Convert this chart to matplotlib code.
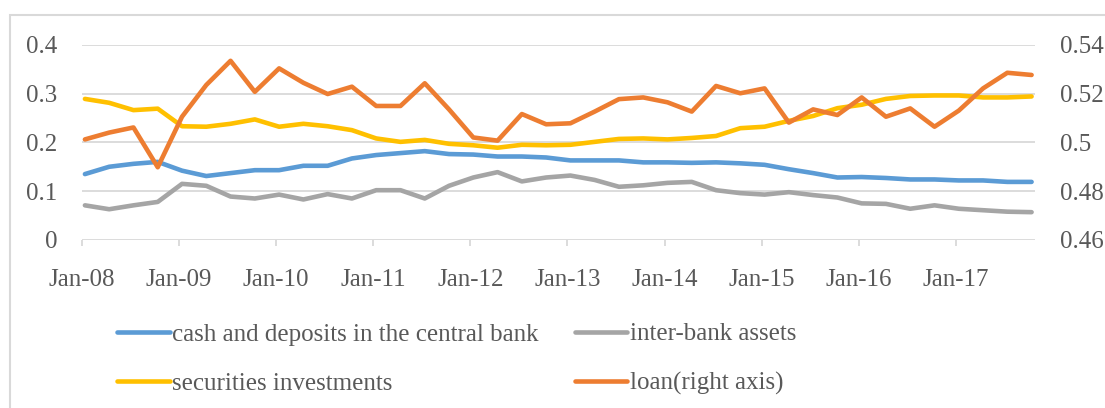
import matplotlib
matplotlib.use("Agg")
import matplotlib.pyplot as plt
from matplotlib.patches import Rectangle

plt.rcParams["font.family"] = ["Liberation Serif", "DejaVu Serif"]

# quarterly observations, Jan-08 .. Oct-17
YEAR_LABELS = ["Jan-08", "Jan-09", "Jan-10", "Jan-11", "Jan-12",
               "Jan-13", "Jan-14", "Jan-15", "Jan-16", "Jan-17"]

cash = [0.135, 0.150, 0.156, 0.160, 0.142, 0.131, 0.137, 0.143, 0.143, 0.152,
        0.152, 0.167, 0.174, 0.178, 0.182, 0.176, 0.175, 0.171, 0.171, 0.169,
        0.163, 0.163, 0.163, 0.159, 0.159, 0.158, 0.159, 0.157, 0.154, 0.145,
        0.137, 0.128, 0.129, 0.127, 0.124, 0.124, 0.122, 0.122, 0.119, 0.119]

interbank = [0.071, 0.063, 0.071, 0.078, 0.115, 0.111, 0.089, 0.085, 0.093, 0.083,
             0.094, 0.085, 0.102, 0.102, 0.085, 0.111, 0.128, 0.139, 0.120, 0.128,
             0.132, 0.123, 0.109, 0.112, 0.117, 0.119, 0.102, 0.096, 0.093, 0.098,
             0.092, 0.087, 0.075, 0.074, 0.064, 0.071, 0.064, 0.061, 0.058, 0.057]

securities = [0.289, 0.281, 0.266, 0.269, 0.233, 0.232, 0.238, 0.247, 0.232, 0.238,
              0.233, 0.225, 0.208, 0.201, 0.205, 0.197, 0.194, 0.189, 0.195, 0.194,
              0.195, 0.201, 0.207, 0.208, 0.206, 0.209, 0.213, 0.229, 0.232, 0.244,
              0.254, 0.270, 0.277, 0.289, 0.295, 0.296, 0.296, 0.292, 0.292, 0.294]

loan = [0.5012, 0.5040, 0.5061, 0.4898, 0.5105, 0.5235, 0.5334, 0.5207, 0.5303, 0.5244,
        0.5198, 0.5228, 0.5149, 0.5149, 0.5242, 0.5135, 0.5020, 0.5007, 0.5116, 0.5074,
        0.5078, 0.5126, 0.5177, 0.5184, 0.5164, 0.5126, 0.5231, 0.5201, 0.5221, 0.5081,
        0.5135, 0.5112, 0.5184, 0.5105, 0.5139, 0.5064, 0.5130, 0.5221, 0.5285, 0.5276]

BLUE, GREY, YELLOW, ORANGE = "#5B9BD5", "#A5A5A5", "#FFC000", "#ED7D31"
TEXT = "#595959"
GRID = "#D9D9D9"
FS = 18
LW = 3.3

W, H = 1105, 408
fig = plt.figure(figsize=(W / 100, H / 100), dpi=100)
ax = fig.add_axes([82 / W, 1 - 240 / H, (1035 - 82) / W, (240 - 44.7) / H])
ax2 = ax.twinx()

x = list(range(len(cash)))
style = dict(lw=LW, solid_capstyle="round", solid_joinstyle="round")
l1, = ax.plot(x, cash, color=BLUE, label="cash and deposits in the central bank", **style)
l2, = ax.plot(x, interbank, color=GREY, label="inter-bank assets", **style)
l3, = ax.plot(x, securities, color=YELLOW, label="securities investments", **style)
l4, = ax2.plot(x, loan, color=ORANGE, label="loan(right axis)", **style)

ax.set_xlim(-0.12, 39.14)
ax.set_ylim(0, 0.4)
ax2.set_ylim(0.46, 0.54)
ax.set_xticks([4 * i - 0.12 for i in range(len(YEAR_LABELS))])
ax.set_xticklabels(YEAR_LABELS)
ax.set_yticks([0, 0.1, 0.2, 0.3, 0.4])
ax.set_yticklabels(["0", "0.1", "0.2", "0.3", "0.4"])
ax2.set_yticks([0.46, 0.48, 0.50, 0.52, 0.54])
ax2.set_yticklabels(["0.46", "0.48", "0.5", "0.52", "0.54"])

ax.grid(axis="y", color=GRID, lw=1.3)
ax.set_axisbelow(True)
for a in (ax, ax2):
    for s in a.spines.values():
        s.set_visible(False)
ax.tick_params(axis="x", length=4, width=1.3, color=GRID, pad=17, labelsize=FS, labelcolor=TEXT)
ax.tick_params(axis="y", length=0, pad=18, labelsize=FS, labelcolor=TEXT)
ax2.tick_params(axis="y", length=0, pad=18, labelsize=FS, labelcolor=TEXT)

fig.legend(handles=[l1, l3, l2, l4], ncol=2, loc="upper left",
           bbox_to_anchor=(117 / W, 1 - 323 / H), frameon=False, fontsize=FS,
           labelcolor=TEXT, borderpad=0, borderaxespad=0, handlelength=2.1,
           handletextpad=0.1, columnspacing=1.44, labelspacing=1.06)

# light chart-area frame, cut off at the right and bottom edges
fig.patches.append(Rectangle((10 / W, -0.1), 1.2, 1 - 15 / H + 0.1,
                             transform=fig.transFigure, fill=False,
                             edgecolor=GRID, lw=1.5))

fig.savefig("out.png", dpi=100)
